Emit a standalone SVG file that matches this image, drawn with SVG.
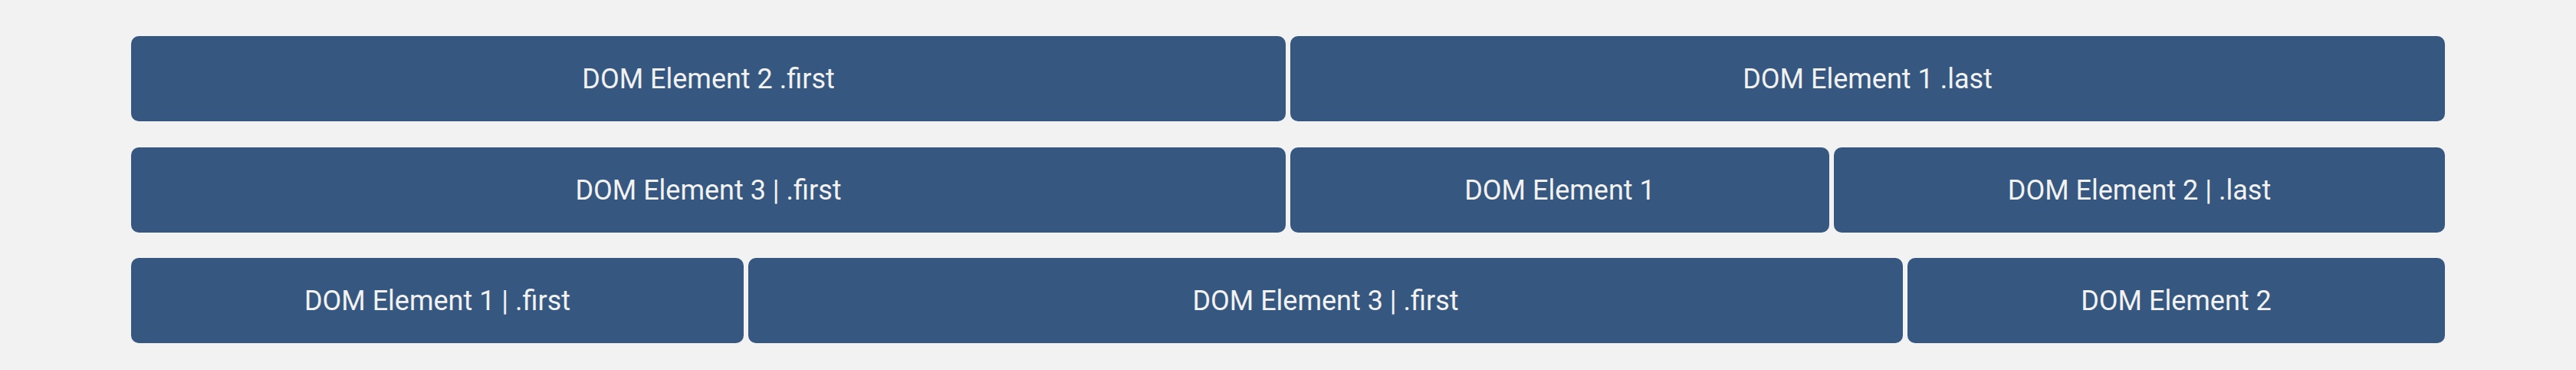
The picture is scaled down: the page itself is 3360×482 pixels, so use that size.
<svg xmlns="http://www.w3.org/2000/svg" width="3360" height="482" viewBox="0 0 3360 482">
<style>
.b{fill:#365880}
.t{fill:#f2f2f2;font-family:Roboto,"Liberation Sans",sans-serif;font-size:36px;text-anchor:middle}
</style>
<rect x="0" y="0" width="3360" height="482" fill="#f2f2f2"/>
<g id="r1a"><rect class="b" x="171" y="47" width="1506" height="111" rx="10"/><text class="t" x="924" y="115">DOM Element 2 .first</text></g>
<g id="r1b"><rect class="b" x="1683" y="47" width="1506" height="111" rx="10"/><text class="t" x="2436" y="115">DOM Element 1 .last</text></g>
<g id="r2a"><rect class="b" x="171" y="192" width="1506" height="111" rx="10"/><text class="t" x="924" y="260">DOM Element 3 | .first</text></g>
<g id="r2b"><rect class="b" x="1683" y="192" width="703" height="111" rx="10"/><text class="t" x="2034.5" y="260">DOM Element 1</text></g>
<g id="r2c"><rect class="b" x="2392" y="192" width="797" height="111" rx="10"/><text class="t" x="2790.5" y="260">DOM Element 2 | .last</text></g>
<g id="r3a"><rect class="b" x="171" y="336" width="799" height="111" rx="10"/><text class="t" x="570.5" y="404">DOM Element 1 | .first</text></g>
<g id="r3b"><rect class="b" x="976" y="336" width="1506" height="111" rx="10"/><text class="t" x="1729" y="404">DOM Element 3 | .first</text></g>
<g id="r3c"><rect class="b" x="2488" y="336" width="701" height="111" rx="10"/><text class="t" x="2838.5" y="404">DOM Element 2</text></g>
<g id="connectors"/>
</svg>
